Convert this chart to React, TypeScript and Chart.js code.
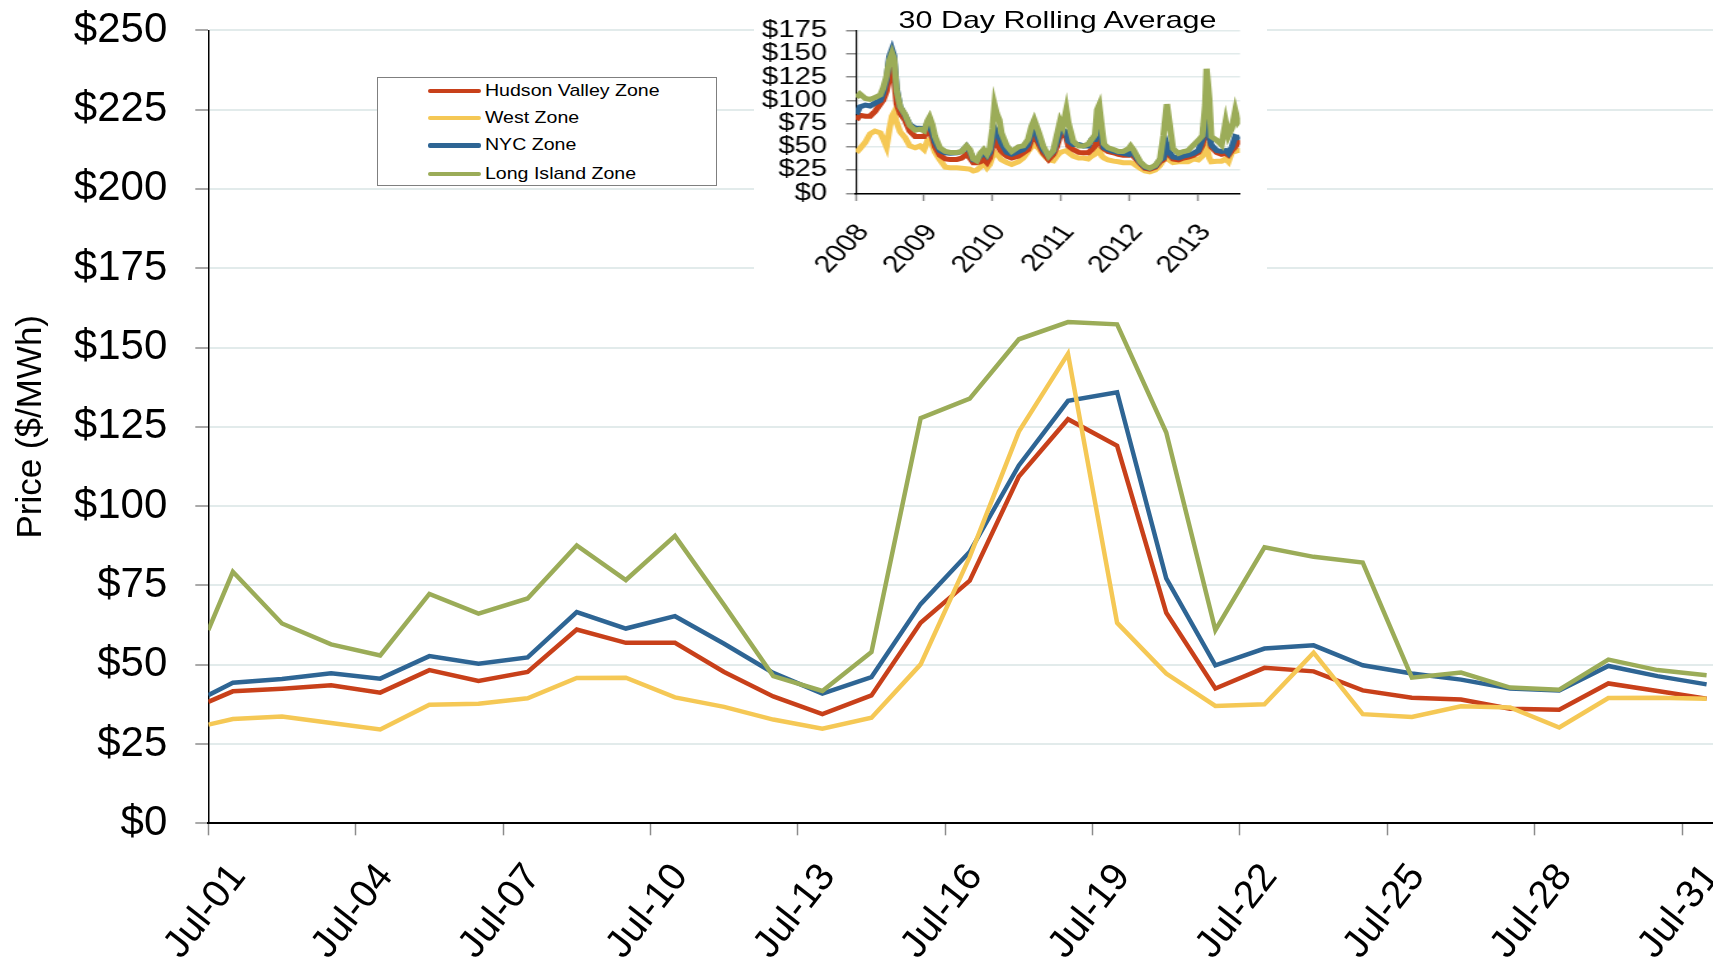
import React, { useEffect, useRef } from 'react';
import { Chart, registerables } from 'chart.js';

Chart.register(...registerables);

// ---------- Main chart data (July, daily) ----------
const dayPositions = [0, 0.5, 1.5, 2.5, 3.5, 4.5, 5.5, 6.5, 7.5, 8.5, 9.5, 10.5, 11.5, 12.5, 13.5, 14.5, 15.5, 16.5, 17.5, 18.5, 19.5, 20.5, 21.5, 22.5, 23.5, 24.5, 25.5, 26.5, 27.5, 28.5, 29.5, 30.5];
const dayTickValues = [0, 3, 6, 9, 12, 15, 18, 21, 24, 27, 30];
const dayTickLabels = ['Jul-01', 'Jul-04', 'Jul-07', 'Jul-10', 'Jul-13', 'Jul-16', 'Jul-19', 'Jul-22', 'Jul-25', 'Jul-28', 'Jul-31'];

const hudsonValley = [38.3, 41.6, 42.4, 43.5, 41.2, 48.3, 44.9, 47.7, 61.1, 56.9, 56.9, 47.7, 40.0, 34.4, 40.3, 63.2, 76.5, 109.3, 127.4, 119.0, 66.4, 42.5, 49.0, 47.9, 41.9, 39.6, 39.0, 36.1, 35.8, 44.1, 41.7, 39.3];
const westZone = [31.1, 32.9, 33.7, 31.6, 29.6, 37.4, 37.7, 39.4, 45.8, 45.9, 39.7, 36.7, 32.7, 29.8, 33.3, 50.1, 84.0, 123.5, 148.0, 63.2, 47.2, 37.0, 37.5, 53.8, 34.4, 33.5, 36.9, 36.5, 30.2, 39.5, 39.6, 39.3];
const nycZone = [40.4, 44.3, 45.5, 47.3, 45.6, 52.7, 50.3, 52.3, 66.6, 61.4, 65.3, 56.6, 47.4, 40.9, 46.1, 69.1, 85.6, 112.8, 133.2, 135.9, 77.2, 49.8, 55.1, 56.1, 49.8, 47.2, 45.3, 42.5, 41.9, 49.6, 46.4, 43.8];
const longIsland = [60.9, 79.3, 63.0, 56.4, 52.9, 72.3, 66.1, 70.9, 87.6, 76.7, 90.6, 68.8, 46.4, 41.7, 54.0, 127.7, 133.9, 152.6, 158.0, 157.3, 123.2, 60.9, 87.0, 84.0, 82.2, 45.9, 47.5, 42.8, 42.1, 51.6, 48.3, 46.7];

// ---------- Inset data (30 day rolling average) ----------
const insetYears = [2008.01, 2008.06, 2008.14, 2008.21, 2008.28, 2008.36, 2008.40, 2008.45, 2008.49, 2008.53, 2008.56, 2008.60, 2008.65, 2008.72, 2008.79, 2008.87, 2008.94, 2009.00, 2009.05, 2009.08, 2009.12, 2009.16, 2009.23, 2009.31, 2009.38, 2009.48, 2009.55, 2009.62, 2009.67, 2009.72, 2009.77, 2009.82, 2009.87, 2009.92, 2009.96, 2010.00, 2010.03, 2010.06, 2010.10, 2010.13, 2010.21, 2010.28, 2010.38, 2010.45, 2010.52, 2010.57, 2010.61, 2010.67, 2010.74, 2010.82, 2010.89, 2010.94, 2010.99, 2011.03, 2011.08, 2011.11, 2011.18, 2011.26, 2011.33, 2011.40, 2011.45, 2011.50, 2011.53, 2011.56, 2011.60, 2011.63, 2011.69, 2011.77, 2011.84, 2011.91, 2011.99, 2012.02, 2012.06, 2012.16, 2012.23, 2012.30, 2012.38, 2012.45, 2012.50, 2012.55, 2012.58, 2012.64, 2012.72, 2012.79, 2012.86, 2012.94, 2013.01, 2013.07, 2013.11, 2013.13, 2013.17, 2013.20, 2013.28, 2013.35, 2013.41, 2013.45, 2013.50, 2013.55, 2013.59, 2013.62];
const insetLongIsland = [103, 107, 102, 101, 103, 106, 113, 126, 143, 151, 145, 110, 93, 85, 73, 68, 69, 67, 78, 82, 74, 61, 49, 45, 44, 44, 45, 51, 47, 37, 35, 43, 47, 42, 48, 70, 95, 86, 79, 65, 51, 45, 50, 51, 58, 72, 79, 67, 51, 40, 46, 62, 78, 72, 90, 76, 56, 51, 51, 53, 58, 63, 90, 95, 70, 53, 49, 47, 45, 45, 48, 51, 47, 34, 29, 27, 30, 37, 62, 96, 80, 48, 43, 45, 46, 52, 57, 62, 95, 134, 102, 61, 57, 52, 77, 62, 70, 89, 77, 80];
const insetNyc = [85, 93, 95, 94, 97, 100, 108, 122, 147, 155, 148, 112, 93, 84, 74, 70, 70, 69, 75, 72, 65, 55, 46, 43.6, 43, 43.6, 45, 50.7, 45, 36, 36, 40, 43.6, 40, 43.6, 58, 70, 66, 60, 54, 44, 42, 45, 47, 52.5, 67, 70, 58, 47, 40, 45, 55, 67, 68, 66, 56, 52.5, 52.5, 51, 51, 58, 58, 66, 69, 58, 49, 47, 45, 44, 43, 42, 46, 43, 33, 28, 27, 29, 36, 38, 52, 45, 39, 38, 40, 41, 43, 46, 58, 80, 95, 62, 52, 46, 45, 46, 43, 50, 61, 60, 61];
const insetHudson = [79, 84, 83, 83, 88, 96, 100, 110, 125, 135, 124, 96, 86, 79, 67, 61, 61, 61, 67, 66, 60, 50, 41, 37, 36.5, 36.5, 38, 42, 38, 33, 33, 34, 37, 33, 38, 52, 58, 53, 48, 45, 40, 38, 40, 43.6, 47, 58, 64, 54, 43.6, 36.4, 42, 50, 62, 64, 60, 51, 47, 44, 43.6, 43.6, 47, 51, 60, 63, 50, 48, 45, 43.6, 42, 41, 41, 43, 40, 32, 27, 26, 28, 34, 36, 48, 42, 37, 36, 38, 39, 41, 44, 52, 70, 85, 60, 50, 44, 42, 43, 41, 46, 50, 55, 53];
const insetWest = [44, 48, 55, 64, 67, 65, 59, 50, 68, 83, 87, 76, 66, 60, 51, 49, 51, 47, 57, 58, 52, 44, 36, 28, 27.5, 27.5, 27, 26.5, 26, 24, 25, 28, 33, 27.5, 31, 40, 44, 42, 39, 36, 33, 31, 34, 38, 45, 50, 52, 49, 42, 36, 35, 40, 44, 45, 46, 44, 40, 38, 38, 37, 40, 42, 47, 47, 40, 38, 36, 34.6, 34, 33, 33, 33, 32, 27, 24, 23, 25, 30, 36, 43, 36, 33, 34, 34, 34, 37, 36, 40, 48, 50, 38, 34, 34.6, 34.6, 37, 34, 44, 45, 46, 46];
const insetYearTicks = [2008, 2009, 2010, 2011, 2012, 2013];
const insetYearLabels = ['2008', '2009', '2010', '2011', '2012', '2013'];

const seriesNames = ['Hudson Valley Zone', 'West Zone', 'NYC Zone', 'Long Island Zone'];
const seriesColors = ['#C8401A', '#F5C855', '#2E6594', '#9BAC58'];

const FONT = '"Liberation Sans", Arial, Helvetica, sans-serif';
const GRID = '#E2EBEB';
const TICKMARK = '#8C8C8C';

// inset horizontal stretch
const INSET_SX = 1.27;
const INSET_W = 404;
const INSET_H = 279;

function pts(xs: number[], ys: number[]) {
  return xs.map((x, i) => ({ x, y: ys[i] }));
}

function noPad(s: any) {
  s.paddingTop = 0;
  s.paddingBottom = 0;
  s.paddingLeft = 0;
  s.paddingRight = 0;
}

export default function App() {
  const mainRef = useRef<HTMLCanvasElement | null>(null);
  const insetRef = useRef<HTMLCanvasElement | null>(null);

  useEffect(() => {
    if (!mainRef.current || !insetRef.current) return;
    const mainSeries = [hudsonValley, westZone, nycZone, longIsland];
    const mainOrder = [3, 1, 2, 0];
    const main = new Chart(mainRef.current, {
      type: 'line',
      data: {
        datasets: mainSeries.map((s, i) => ({
          label: seriesNames[i],
          data: pts(dayPositions, s),
          borderColor: seriesColors[i],
          backgroundColor: seriesColors[i],
          borderWidth: 4.5,
          pointRadius: 0,
          tension: 0,
          fill: false,
          order: mainOrder[i],
        })),
      },
      options: {
        responsive: false,
        animation: false,
        devicePixelRatio: 1,
        layout: { padding: { top: 30.3, right: 0, left: 0, bottom: 0 } },
        plugins: { legend: { display: false }, tooltip: { enabled: false }, title: { display: false } },
        scales: {
          x: {
            type: 'linear',
            min: 0,
            max: 30.63,
            afterBuildTicks: (s: any) => {
              s.ticks = dayTickValues.map((v) => ({ value: v }));
            },
            afterFit: (s: any) => {
              s.height = 137.7;
              noPad(s);
            },
            grid: { drawOnChartArea: false, drawTicks: true, tickLength: 12, tickColor: TICKMARK, tickWidth: 1.5 },
            border: { display: true, color: '#000', width: 2 },
            ticks: {
              autoSkip: false,
              maxRotation: 52,
              minRotation: 52,
              padding: 20,
              labelOffset: 30,
              color: '#000',
              font: { family: FONT, size: 39 },
              callback: (_v: any, i: number) => dayTickLabels[i] ?? '',
            },
          },
          y: {
            type: 'linear',
            min: 0,
            max: 250,
            afterFit: (s: any) => {
              s.width = 208.3;
              noPad(s);
            },
            grid: { color: GRID, lineWidth: 2, tickLength: 13, tickColor: TICKMARK, tickWidth: 1.5 },
            border: { display: true, color: '#000', width: 1.5 },
            ticks: {
              stepSize: 25,
              autoSkip: false,
              padding: 28,
              color: '#000',
              font: { family: FONT, size: 42 },
              callback: (v: any) => '$' + v,
            },
            title: {
              display: true,
              text: 'Price ($/MWh)',
              color: '#000',
              font: { family: FONT, size: 35 },
              padding: { top: 10, bottom: 0 },
            },
          },
        },
      },
    });

    const insetSeries = [insetHudson, insetWest, insetNyc, insetLongIsland];
    const insetOrder = [2, 3, 1, 0];
    const inset = new Chart(insetRef.current, {
      type: 'line',
      data: {
        datasets: insetSeries.map((s, i) => ({
          label: seriesNames[i],
          data: pts(insetYears, s),
          borderColor: seriesColors[i],
          backgroundColor: seriesColors[i],
          borderWidth: 5,
          pointRadius: 0,
          tension: 0,
          fill: false,
          order: insetOrder[i],
        })),
      },
      options: {
        responsive: false,
        animation: false,
        devicePixelRatio: 1,
        layout: { padding: { top: 30.7, right: 21.3, left: 0, bottom: 0 } },
        plugins: { legend: { display: false }, tooltip: { enabled: false }, title: { display: false } },
        scales: {
          x: {
            type: 'linear',
            min: 2008,
            max: 2013.62,
            afterBuildTicks: (s: any) => {
              s.ticks = insetYearTicks.map((v) => ({ value: v }));
            },
            afterFit: (s: any) => {
              s.height = 85.7;
              noPad(s);
            },
            grid: { drawOnChartArea: false, drawTicks: true, tickLength: 7.7, tickColor: TICKMARK, tickWidth: 1.5 },
            border: { display: true, color: '#000', width: 1.5 },
            ticks: {
              autoSkip: false,
              maxRotation: 52,
              minRotation: 52,
              padding: 18,
              labelOffset: 6,
              color: '#000',
              font: { family: FONT, size: 24 },
              callback: (_v: any, i: number) => insetYearLabels[i] ?? '',
            },
          },
          y: {
            type: 'linear',
            min: 0,
            max: 175,
            afterFit: (s: any) => {
              s.width = 80.1;
              noPad(s);
            },
            grid: { color: GRID, lineWidth: 1.5, tickLength: 7.6, tickColor: TICKMARK, tickWidth: 1.5 },
            border: { display: true, color: '#000', width: 1.2 },
            ticks: {
              stepSize: 25,
              autoSkip: false,
              padding: 15,
              color: '#000',
              font: { family: FONT, size: 23 },
              callback: (v: any) => '$' + v,
            },
          },
        },
      },
    });

    return () => {
      main.destroy();
      inset.destroy();
    };
  }, []);

  const legendRows = [12.7, 40, 67.3, 95.7];

  return (
    <div style={{ position: 'absolute', left: 0, top: 0, width: 1713, height: 961, overflow: 'hidden', background: '#fff', fontFamily: FONT }}>
      <canvas ref={mainRef} width={1713} height={961} style={{ position: 'absolute', left: 0, top: 0, width: 1713, height: 961 }} />
      {/* Legend */}
      <div style={{ position: 'absolute', left: 377, top: 77, width: 340, height: 109, border: '1.5px solid #7F7F7F', background: '#fff', boxSizing: 'border-box' }}>
        {seriesNames.map((name, i) => (
          <React.Fragment key={name}>
            <div style={{ position: 'absolute', left: 50, top: legendRows[i] - 2.2, width: 53, height: 4.5, background: seriesColors[i], borderRadius: 2 }} />
            <div style={{ position: 'absolute', left: 107, top: legendRows[i] - 10, fontSize: 17, lineHeight: '20px', color: '#000', whiteSpace: 'nowrap', transform: 'scaleX(1.15)', transformOrigin: '0 0' }}>
              {name}
            </div>
          </React.Fragment>
        ))}
      </div>
      {/* Inset */}
      <div style={{ position: 'absolute', left: 754, top: 0, width: INSET_W, height: INSET_H, background: '#fff', transform: `scaleX(${INSET_SX})`, transformOrigin: '0 0' }}>
        <canvas ref={insetRef} width={INSET_W} height={INSET_H} style={{ position: 'absolute', left: 0, top: 0, width: INSET_W, height: INSET_H }} />
        <div style={{ position: 'absolute', left: 0, top: 8, width: 478, textAlign: 'center', fontSize: 24, lineHeight: '24px', color: '#000', whiteSpace: 'nowrap' }}>
          30 Day Rolling Average
        </div>
      </div>
    </div>
  );
}
